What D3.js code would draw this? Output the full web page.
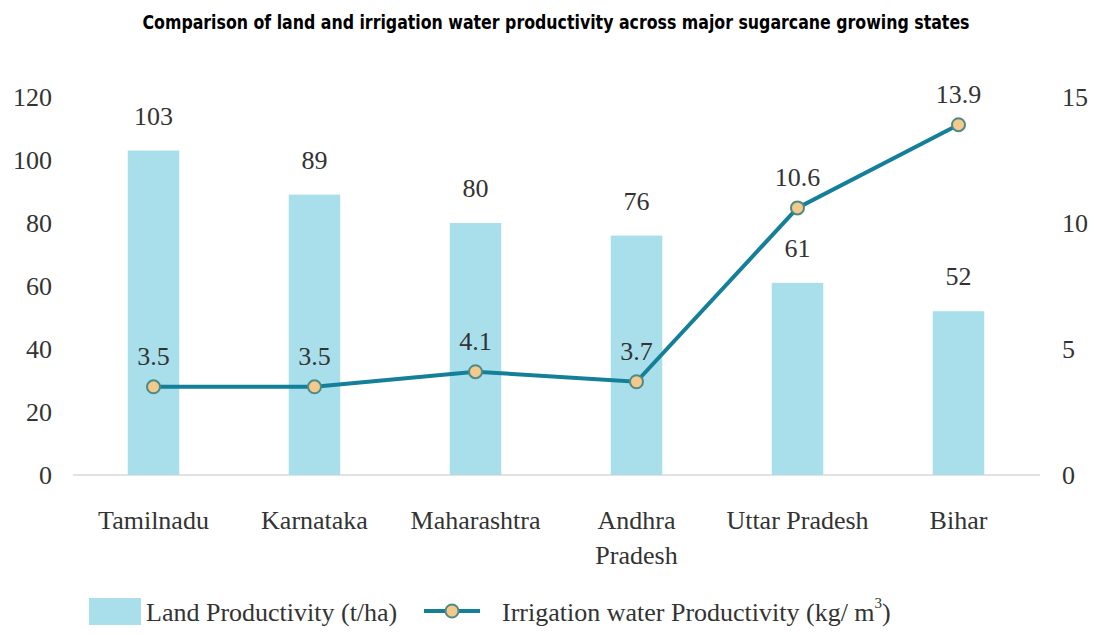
<!DOCTYPE html>
<html lang="en">
<head>
<meta charset="utf-8">
<title>Land and irrigation water productivity</title>
<script src="https://d3js.org/d3.v7.min.js"></script>
<style>
* { margin: 0; padding: 0; }
body { background: #fff; }
svg text { font-family: 'Liberation Serif', 'Times New Roman', serif; fill: #333; }
</style>
</head>
<body>
<script>
// data
let states = ["Tamilnadu", "Karnataka", "Maharashtra", "Andhra Pradesh", "Uttar Pradesh", "Bihar"];
let landProd = [103, 89, 80, 76, 61, 52];          // t/ha, left axis
let waterProd = [3.5, 3.5, 4.1, 3.7, 10.6, 13.9];   // kg/m3, right axis
let leftTicks = [0, 20, 40, 60, 80, 100, 120];
let rightTicks = [0, 5, 10, 15];

let w = 1094, h = 635;
let barColor = "#a9dfeb";
let lineColor = "#137f98";
let dotColor = "#f3c98c";
let fs = "26px";

let svg = d3.select("body").append("svg")
  .attr("width", w)
  .attr("height", h);

svg.append("text")
  .text("Comparison of land and irrigation water productivity across major sugarcane growing states")
  .attr("x", 556)
  .attr("y", 29)
  .attr("text-anchor", "middle")
  .attr("textLength", 827)
  .attr("lengthAdjust", "spacingAndGlyphs")
  .style("font-family", "'DejaVu Sans Condensed', 'Roboto', sans-serif")
  .style("font-weight", "bold")
  .style("font-size", "19px")
  .style("fill", "#000");

let x = d3.scaleBand()
  .domain(states)
  .range([73, 1039])
  .paddingInner(0.68)
  .paddingOuter(0.34);

let yL = d3.scaleLinear().domain([0, 120]).range([475, 97]);
let yR = d3.scaleLinear().domain([0, 15]).range([475, 97]);

// baseline
svg.append("line")
  .attr("x1", 73).attr("x2", 1040)
  .attr("y1", yL(0)).attr("y2", yL(0))
  .attr("stroke", "#d9d9d9")
  .attr("stroke-width", 1.5);

// left axis
let leftAxis = svg.append("g")
  .attr("transform", "translate(52,0)")
  .call(d3.axisLeft(yL).tickValues(leftTicks).tickSize(0).tickPadding(0));
leftAxis.select(".domain").remove();
leftAxis.selectAll("text").style("font-size", fs).attr("fill", "#333");

// right axis
let rightAxis = svg.append("g")
  .attr("transform", "translate(1062,0)")
  .call(d3.axisRight(yR).tickValues(rightTicks).tickSize(0).tickPadding(0));
rightAxis.select(".domain").remove();
rightAxis.selectAll("text").style("font-size", fs).attr("fill", "#333");

// bars
svg.append("g").selectAll("rect")
  .data(states)
  .enter().append("rect")
  .attr("x", d => x(d))
  .attr("width", x.bandwidth())
  .attr("y", (d, i) => yL(landProd[i]))
  .attr("height", (d, i) => yL(0) - yL(landProd[i]))
  .attr("fill", barColor);

svg.append("g").selectAll("text")
  .data(states)
  .enter().append("text")
  .text((d, i) => landProd[i])
  .attr("x", d => x(d) + x.bandwidth() / 2)
  .attr("y", (d, i) => yL(landProd[i]) - 26)
  .attr("text-anchor", "middle")
  .style("font-size", fs);

// line
let line = d3.line()
  .x(d => x(d.s) + x.bandwidth() / 2)
  .y(d => yR(d.v));
let pts = states.map((s, i) => ({ s: s, v: waterProd[i] }));

svg.append("path")
  .datum(pts)
  .attr("d", line)
  .attr("fill", "none")
  .attr("stroke", lineColor)
  .attr("stroke-width", 4);

svg.append("g").selectAll("circle")
  .data(pts)
  .enter().append("circle")
  .attr("cx", d => x(d.s) + x.bandwidth() / 2)
  .attr("cy", d => yR(d.v))
  .attr("r", 6.5)
  .attr("fill", dotColor)
  .attr("stroke", "#4f8a86")
  .attr("stroke-width", 2);

svg.append("g").selectAll("text")
  .data(pts)
  .enter().append("text")
  .text(d => d.v.toFixed(1))
  .attr("x", d => x(d.s) + x.bandwidth() / 2)
  .attr("y", d => yR(d.v) - 22)
  .attr("text-anchor", "middle")
  .style("font-size", fs);

// category labels, wrapped like the source
let xl = svg.append("g").selectAll("text")
  .data(states)
  .enter().append("text")
  .attr("x", d => x(d) + x.bandwidth() / 2)
  .attr("y", 529)
  .attr("text-anchor", "middle")
  .style("font-size", fs);
xl.each(function(d) {
  let parts = d === "Andhra Pradesh" ? ["Andhra", "Pradesh"] : [d];
  let t = d3.select(this);
  parts.forEach((p, i) => {
    t.append("tspan")
      .text(p)
      .attr("x", x(d) + x.bandwidth() / 2)
      .attr("dy", i === 0 ? 0 : 35);
  });
});

// legend
let lg = svg.append("g");
lg.append("rect")
  .attr("x", 89).attr("y", 598)
  .attr("width", 52).attr("height", 27)
  .attr("fill", barColor);
lg.append("text")
  .text("Land Productivity (t/ha)")
  .attr("x", 146).attr("y", 621)
  .style("font-size", fs);
lg.append("line")
  .attr("x1", 424).attr("x2", 480)
  .attr("y1", 611).attr("y2", 611)
  .attr("stroke", lineColor)
  .attr("stroke-width", 4);
lg.append("circle")
  .attr("cx", 452).attr("cy", 611).attr("r", 6.5)
  .attr("fill", dotColor)
  .attr("stroke", "#4f8a86")
  .attr("stroke-width", 2);
let lt = lg.append("text")
  .attr("x", 502).attr("y", 621)
  .style("font-size", fs);
lt.append("tspan").text("Irrigation water Productivity (kg/ m");
lt.append("tspan").text("3").attr("dy", -13).style("font-size", "15px");
lt.append("tspan").text(")").attr("dy", 13);
</script>
</body>
</html>
